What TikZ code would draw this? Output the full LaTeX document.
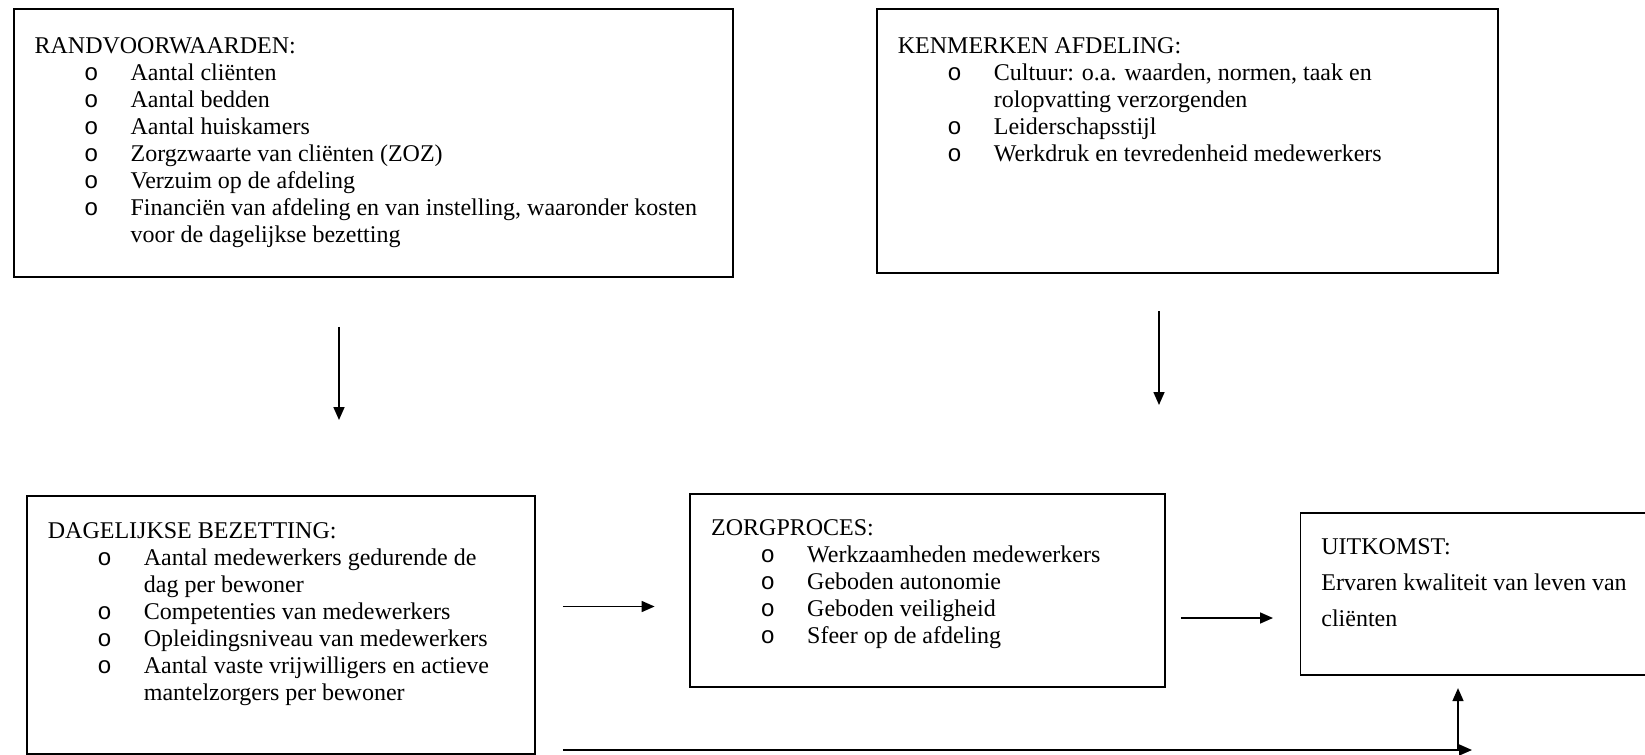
\documentclass[tikz,border=0pt]{standalone}
\usepackage{fontspec}
\setmainfont{Liberation Serif}
\newfontfamily\bolfont{Liberation Mono}
\usetikzlibrary{arrows.meta}
\newlength\px
\setlength\px{0.5pt}
% one bullet line of a list inside a box
\newcommand\itm{\par\hangindent=96\px\hangafter=1\noindent\hspace*{49.5\px}\makebox[46.5\px][l]{\bolfont o}}
% text of a box: width, height, contents
\newcommand\inhoud[3]{\parbox[t][#2][t]{#1}{\strut#3}}
\tikzset{
  kader/.style={draw,line width=0.9pt,anchor=north west,inner xsep=21\px,inner ysep=22\px},
  pijl/.style={-{Triangle[length=6.5pt,width=5.5pt]},line width=0.8pt}
}
\begin{document}
\begin{tikzpicture}[x=0.5pt,y=-0.5pt,font=\fontsize{12}{13.5}\selectfont]
\useasboundingbox (0,0) rectangle (1645,755);
\node[kader,inner ysep=25\px] (rand) at (12.7,8.3) {\inhoud{677.6\px}{217.7\px}{RANDVOORWAARDEN:
  \itm Aantal cliënten
  \itm Aantal bedden
  \itm Aantal huiskamers
  \itm Zorgzwaarte van cliënten (ZOZ)
  \itm Verzuim op de afdeling
  \itm Financiën van afdeling en van instelling, waaronder kosten\\voor de dagelijkse bezetting}};
\node[kader,inner ysep=25\px] (kenm) at (876,8.3) {\inhoud{579\px}{213.4\px}{KENMERKEN AFDELING:
  \itm Cultuur: o.a. waarden, normen, taak en\\rolopvatting verzorgenden
  \itm Leiderschapsstijl
  \itm Werkdruk en tevredenheid medewerkers}};
\node[kader,inner ysep=24\px] (bez) at (26,495) {\inhoud{466\px}{209.7\px}{DAGELIJKSE BEZETTING:
  \itm Aantal medewerkers gedurende de\\dag per bewoner
  \itm Competenties van medewerkers
  \itm Opleidingsniveau van medewerkers
  \itm Aantal vaste vrijwilligers en actieve\\mantelzorgers per bewoner}};
\node[kader] (zorg) at (689.3,493.3) {\inhoud{432.7\px}{148.7\px}{ZORGPROCES:
  \itm Werkzaamheden medewerkers
  \itm Geboden autonomie
  \itm Geboden veiligheid
  \itm Sfeer op de afdeling}};
\node[kader] (uit) at (1299.5,512.3) {\inhoud{318\px}{118\px}{\baselineskip=36\px UITKOMST:\\
  Ervaren kwaliteit van leven van\\cliënten}};
% arrows
\draw[pijl,shorten <=49\px,shorten >=75\px] (rand.south -| 339,0) -- (bez.north -| 339,0);
\draw[pijl,shorten <=37.8\px,shorten >=88.3\px] (kenm.south -| 1159,0) -- (zorg.north -| 1159,0);
\draw[pijl,shorten <=27\px,shorten >=34.7\px] (bez.east |- 0,606.5) -- (zorg.west |- 0,606.5);
\draw[pijl,shorten <=15\px,shorten >=26.5\px] (zorg.east |- 0,618) -- (uit.west |- 0,618);
\coordinate (eind) at (1472,750);
\draw[pijl,shorten <=27\px] (bez.east |- eind) -- (eind);
\draw[pijl,shorten >=12\px] (eind -| 1458,0) -- (uit.south -| 1458,0);
\end{tikzpicture}
\end{document}
